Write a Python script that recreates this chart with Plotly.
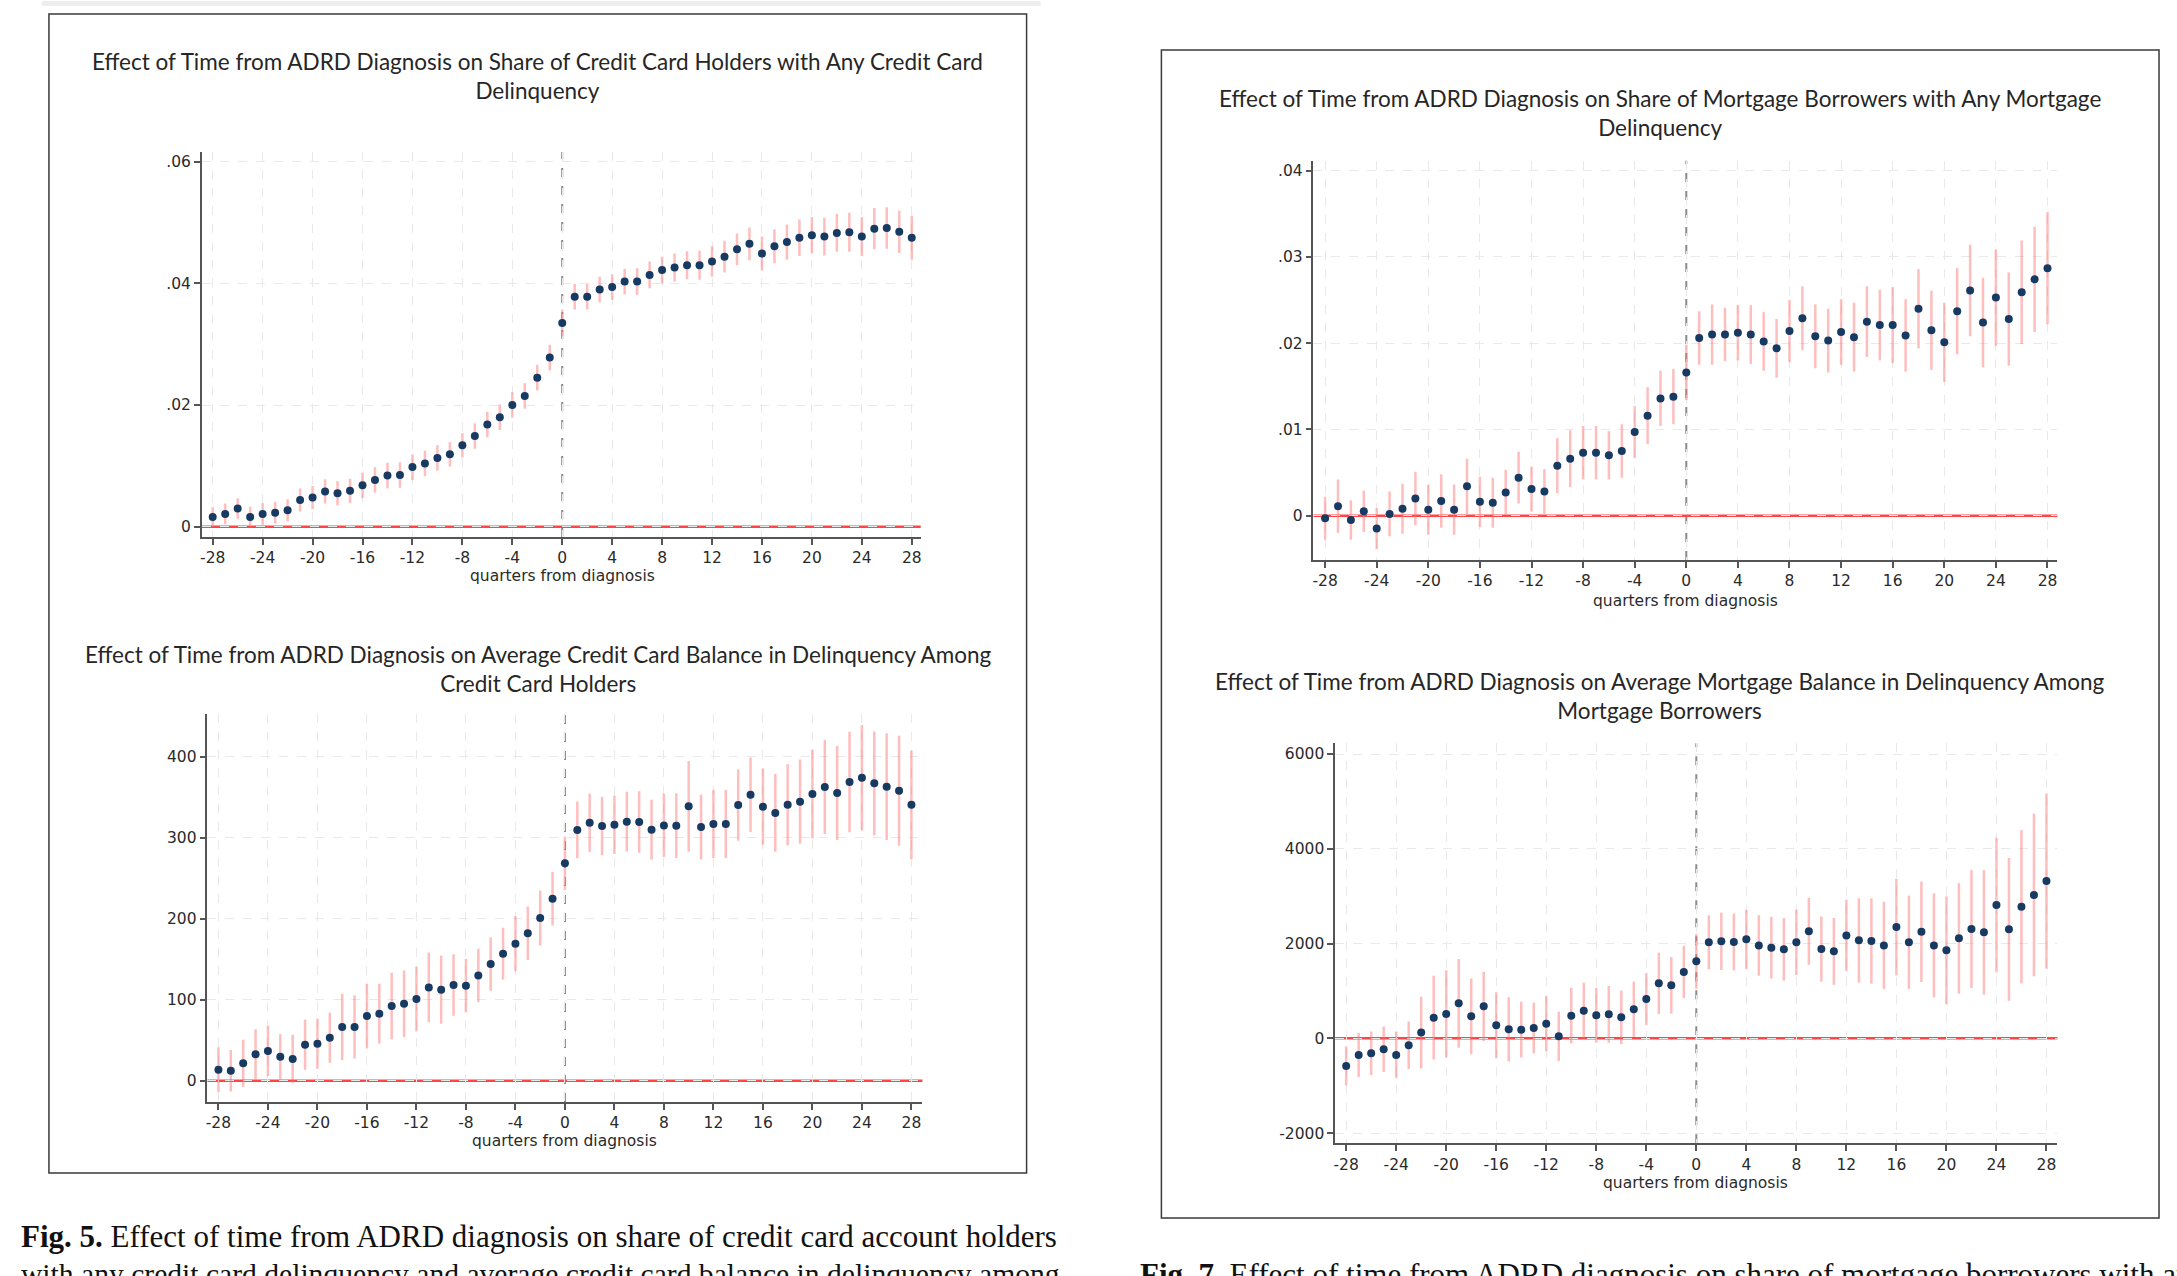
import plotly.graph_objects as go

W, H = 2177, 1276

quarters = list(range(-28, 29))
x_ticks = list(range(-28, 29, 4))
x_ticktext = [str(v) for v in x_ticks]

# Credit card: share with any delinquency (point estimate, CI half-width)
cc_share = [0.0016, 0.0021, 0.0030, 0.0016, 0.0021, 0.0023, 0.0027,
            0.0044, 0.0048, 0.0058, 0.0055, 0.0059, 0.0068, 0.0077,
            0.0084, 0.0085, 0.0098, 0.0104, 0.0113, 0.0119, 0.0134,
            0.0149, 0.0168, 0.0180, 0.0200, 0.0215, 0.0245, 0.0278,
            0.0335,
            0.0378, 0.0378, 0.0390, 0.0394, 0.0403, 0.0403, 0.0414,
            0.0422, 0.0426, 0.0430, 0.0430, 0.0436, 0.0444, 0.0456,
            0.0465, 0.0449, 0.0461, 0.0468, 0.0475, 0.0479, 0.0477,
            0.0483, 0.0484, 0.0477, 0.0490, 0.0491, 0.0485, 0.0475]
cc_share_ci = [0.0016, 0.0017, 0.0017, 0.0017, 0.0018, 0.0018, 0.0018,
               0.0019, 0.0019, 0.0020, 0.0020, 0.0020, 0.0021, 0.0021,
               0.0021, 0.0021, 0.0021, 0.0021, 0.0021, 0.0020, 0.0020,
               0.0021, 0.0021, 0.0021, 0.0021, 0.0021, 0.0021, 0.0021,
               0.0022,
               0.0021, 0.0021, 0.0021, 0.0021, 0.0021, 0.0022, 0.0022,
               0.0022, 0.0023, 0.0023, 0.0024, 0.0025, 0.0026, 0.0026,
               0.0027, 0.0028, 0.0028, 0.0029, 0.0030, 0.0030, 0.0031,
               0.0031, 0.0032, 0.0032, 0.0034, 0.0034, 0.0035, 0.0036]

# Credit card: average balance in delinquency
cc_bal = [13.6, 12.3, 21.4, 32.5, 36.6, 29.6, 26.7,
          44.4, 45.7, 53.1, 66.3, 66.3, 79.8, 82.7,
          92.2, 95.1, 100.8, 115.2, 112.3, 118.1, 117.3,
          130.0, 144.0, 156.8, 169.1, 181.9, 200.8, 224.7,
          268.3,
          309.5, 318.5, 314.4, 316.0, 319.8, 319.3, 309.9,
          315.2, 314.8, 338.7, 313.2, 316.9, 316.9, 340.3,
          353.1, 338.3, 330.5, 340.7, 344.4, 353.9, 362.6,
          355.1, 368.7, 374.1, 367.1, 363.0, 358.0, 340.7]
cc_bal_ci = [27.6, 25.7, 29, 31, 31, 28, 30,
             31, 31, 31, 41, 39, 40, 37,
             41, 41, 40, 43, 42, 38, 33,
             33, 33, 32, 34, 33, 34, 33,
             33,
             35, 36, 36, 36, 37, 38, 37,
             39, 40, 56, 40, 42, 42, 44,
             46, 47, 48, 50, 52, 55, 58,
             58, 62, 65, 64, 66, 68, 67]

# Mortgage: share with any delinquency
mg_share = [-0.0003, 0.0011, -0.0005, 0.0005, -0.0015, 0.0002, 0.0008,
            0.0020, 0.0007, 0.0017, 0.0007, 0.0034, 0.0016, 0.0015,
            0.0027, 0.0044, 0.0031, 0.0028, 0.0058, 0.0066, 0.0073,
            0.0073, 0.0070, 0.0075, 0.0097, 0.0116, 0.0136, 0.0138,
            0.0166,
            0.0206, 0.0210, 0.0210, 0.0212, 0.0210, 0.0202, 0.0194,
            0.0214, 0.0229, 0.0208, 0.0203, 0.0213, 0.0207, 0.0225,
            0.0221, 0.0221, 0.0209, 0.0240, 0.0215, 0.0201, 0.0237,
            0.0261, 0.0224, 0.0253, 0.0228, 0.0259, 0.0274, 0.0287]
mg_share_ci = [0.0025, 0.0031, 0.0023, 0.0024, 0.0024, 0.0026, 0.0029,
               0.0031, 0.0029, 0.0031, 0.0029, 0.0032, 0.0029, 0.0029,
               0.0026, 0.0030, 0.0026, 0.0026, 0.0032, 0.0033, 0.0031,
               0.0031, 0.0028, 0.0031, 0.0030, 0.0033, 0.0032, 0.0032,
               0.0032,
               0.0031, 0.0035, 0.0031, 0.0032, 0.0034, 0.0034, 0.0034,
               0.0036, 0.0037, 0.0037, 0.0037, 0.0038, 0.0040, 0.0041,
               0.0041, 0.0044, 0.0042, 0.0046, 0.0046, 0.0046, 0.0050,
               0.0053, 0.0052, 0.0056, 0.0054, 0.0060, 0.0061, 0.0065]

# Mortgage: average balance in delinquency
mg_bal = [-583, -352, -316, -232, -352, -148, 120,
          436, 513, 738, 464, 675, 274, 190,
          183, 218, 309, 42, 478, 583, 485,
          506, 443, 612, 830, 1160, 1118, 1399,
          1624,
          2025, 2046, 2032, 2088, 1961, 1912, 1877,
          2025, 2257, 1884, 1835, 2172, 2067, 2053,
          1961, 2348, 2025, 2250, 1961, 1856, 2109,
          2306, 2236, 2812, 2299, 2777, 3023, 3318]
mg_bal_ci = [415, 465, 457, 480, 492, 500, 755,
             885, 925, 938, 800, 730, 696, 678,
             590, 535, 580, 520, 587, 590, 580,
             598, 563, 583, 548, 647, 598, 552,
             580,
             570, 605, 598, 626, 640, 650, 660,
             690, 705, 690, 705, 755, 890, 900,
             920, 1020, 985, 1060, 1097, 1140, 1167,
             1245, 1315, 1420, 1508, 1617, 1715, 1850]

titles = [
    "Effect of Time from ADRD Diagnosis on Share of Credit Card Holders with Any Credit Card<br>Delinquency",
    "Effect of Time from ADRD Diagnosis on Average Credit Card Balance in Delinquency Among<br>Credit Card Holders",
    "Effect of Time from ADRD Diagnosis on Share of Mortgage Borrowers with Any Mortgage<br>Delinquency",
    "Effect of Time from ADRD Diagnosis on Average Mortgage Balance in Delinquency Among<br>Mortgage Borrowers",
]
x_label = "quarters from diagnosis"

y_tickvals = [[0, 0.02, 0.04, 0.06], [0, 100, 200, 300, 400],
              [0, 0.01, 0.02, 0.03, 0.04], [-2000, 0, 2000, 4000, 6000]]
y_ticktext = [["0", ".02", ".04", ".06"], ["0", "100", "200", "300", "400"],
              ["0", ".01", ".02", ".03", ".04"], ["-2000", "0", "2000", "4000", "6000"]]

series = [(cc_share, cc_share_ci), (cc_bal, cc_bal_ci),
          (mg_share, mg_share_ci), (mg_bal, mg_bal_ci)]

# layout geometry (pixels): plot box left,right,top,bottom ; axis ranges ; title y ; xlabel y
geo = [
    dict(px=(200, 920), py=(152, 537), xr=(-28.88, 28.72), yr=(-0.00169, 0.0616),
         tx=536, ty=76, lx=561, ly=576),
    dict(px=(205.7, 921.7), py=(714, 1102), xr=(-28.89, 28.89), yr=(-26.3, 452.7),
         tx=537, ty=669, lx=563, ly=1141),
    dict(px=(1313.3, 2058), py=(160.7, 560), xr=(-28.9, 28.75), yr=(-0.00514, 0.04116),
         tx=1660, ty=113, lx=1686, ly=601),
    dict(px=(1335, 2058.3), py=(743.3, 1143.3), xr=(-28.88, 28.88), yr=(-2216, 6226),
         tx=1660, ty=696, lx=1696, ly=1183),
]


def fx(v):
    return v / W


def fy(v):
    return 1 - v / H


fig = go.Figure()
layout = dict(width=W, height=H, margin=dict(l=0, r=0, t=0, b=0),
              paper_bgcolor="white", plot_bgcolor="white", showlegend=False)
shapes = []
annotations = []

tick_font = dict(family="DejaVu Sans, sans-serif", size=15.5, color="#2a2a2a")
title_font = dict(family="Lato, sans-serif", size=22.5, color="#262626")

for i, ((vals, ci), g) in enumerate(zip(series, geo)):
    n = "" if i == 0 else str(i + 1)
    xa, ya = "x" + n, "y" + n
    fig.add_trace(go.Scatter(
        x=quarters, y=vals, mode="markers", xaxis=xa, yaxis=ya,
        marker=dict(color="#173a63", size=8),
        error_y=dict(type="data", array=ci, visible=True, color="rgba(255,110,110,0.45)",
                     thickness=2.5, width=0),
    ))
    axis_common = dict(showline=True, linecolor="#555", linewidth=1.5, ticks="outside",
                       ticklen=6, tickwidth=1.5, tickcolor="#555", showgrid=True,
                       gridcolor="#e9e9e9", griddash="dash", gridwidth=1, zeroline=False,
                       tickfont=tick_font, mirror=False)
    layout["xaxis" + n] = dict(domain=[fx(g["px"][0]), fx(g["px"][1])], range=list(g["xr"]),
                               anchor=ya, tickvals=x_ticks, ticktext=x_ticktext, **axis_common)
    layout["yaxis" + n] = dict(domain=[fy(g["py"][1]), fy(g["py"][0])], range=list(g["yr"]),
                               anchor=xa, tickvals=y_tickvals[i], ticktext=y_ticktext[i],
                               **axis_common)
    # vertical dashed line at diagnosis
    shapes.append(dict(type="line", xref=xa, yref=ya + " domain", x0=0, x1=0, y0=0, y1=1,
                       line=dict(color="#8a8a8a", width=2, dash="dash"), layer="below"))
    # red zero line
    shapes.append(dict(type="line", xref=xa + " domain", yref=ya, x0=0, x1=1, y0=0, y1=0,
                       line=dict(color="#ff4545", width=2.5), layer="below"))
    annotations.append(dict(text=titles[i], x=fx(g["tx"]), y=fy(g["ty"]), xref="paper",
                            yref="paper", showarrow=False, font=title_font,
                            xanchor="center", yanchor="middle", align="center"))
    annotations.append(dict(text=x_label, x=fx(g["lx"]), y=fy(g["ly"]), xref="paper",
                            yref="paper", showarrow=False, font=tick_font,
                            xanchor="center", yanchor="middle"))

# panel frames
shapes.append(dict(type="rect", xref="paper", yref="paper", x0=fx(47), x1=fx(1026),
                   y0=fy(1173), y1=fy(14), line=dict(color="#3a3a3a", width=1.5)))
shapes.append(dict(type="rect", xref="paper", yref="paper", x0=fx(1161), x1=fx(2160),
                   y0=fy(1218), y1=fy(50), line=dict(color="#3a3a3a", width=1.5)))
shapes.append(dict(type="rect", xref="paper", yref="paper", x0=fx(40), x1=fx(1040),
                   y0=fy(6), y1=fy(1), line=dict(width=0), fillcolor="#eeeeee"))

cap_font = dict(family="Liberation Serif, serif", size=31, color="#111")
cap_font2 = dict(family="Liberation Serif, serif", size=29.6, color="#111")
annotations.append(dict(text="<b>Fig. 5.</b> Effect of time from ADRD diagnosis on share of credit card account holders",
                        x=fx(17), y=fy(1236), xref="paper", yref="paper", showarrow=False,
                        font=cap_font, xanchor="left", yanchor="middle"))
annotations.append(dict(text="with any credit card delinquency and average credit card balance in delinquency among",
                        x=fx(17), y=fy(1274), xref="paper", yref="paper", showarrow=False,
                        font=cap_font2, xanchor="left", yanchor="middle"))
annotations.append(dict(text="<b>Fig. 7.</b> Effect of time from ADRD diagnosis on share of mortgage borrowers with any",
                        x=fx(1138), y=fy(1274), xref="paper", yref="paper", showarrow=False,
                        font=cap_font, xanchor="left", yanchor="middle"))

layout["shapes"] = shapes
layout["annotations"] = annotations
fig.update_layout(**layout)
fig.write_html("out.html")
